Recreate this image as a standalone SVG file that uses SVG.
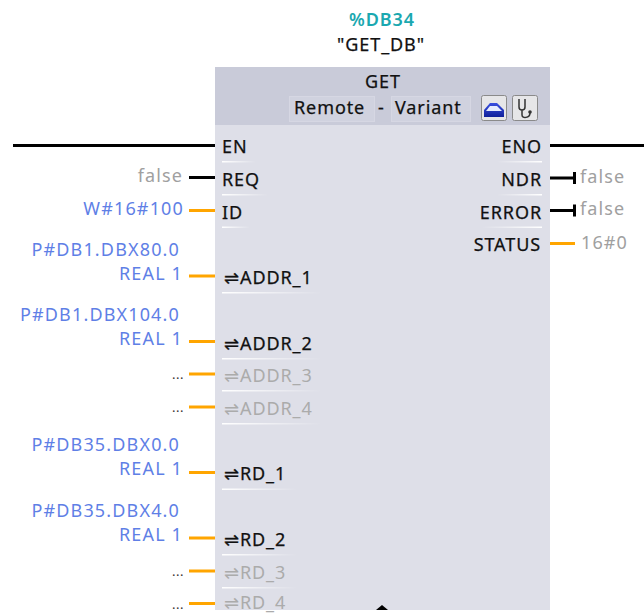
<svg xmlns="http://www.w3.org/2000/svg" width="644" height="613" viewBox="0 0 644 613">
<defs>
<linearGradient id="fr"><stop offset="0" stop-color="#fff"/><stop offset="1" stop-color="#fff" stop-opacity="0"/></linearGradient>
<linearGradient id="fl"><stop offset="0" stop-color="#fff" stop-opacity="0"/><stop offset="1" stop-color="#fff"/></linearGradient>
<linearGradient id="tb" x1="0" y1="0" x2="0" y2="1"><stop offset="0" stop-color="#3a50e0"/><stop offset="1" stop-color="#10209a"/></linearGradient>
</defs>
<style>
text{font-family:"Noto Sans","DejaVu Sans",sans-serif;font-size:18px;letter-spacing:.9px;fill:#111;stroke:#111;stroke-width:.25px}
.r{text-anchor:end}
.m{text-anchor:middle}
.v{fill:#5f7fe6;stroke:none;letter-spacing:1.15px}
.g{fill:#a0a0a0;stroke:none;letter-spacing:1.1px}
.d{fill:#ababab;stroke:none}
.dots{font-size:13px;letter-spacing:.5px;fill:#333;stroke:none}
.hr{fill:url(#fr)}
.hl{fill:url(#fl)}
.w{stroke:#000;stroke-width:3;fill:none}
.o{stroke:#ffa500;stroke-width:3;fill:none}
.lab{fill:#d0d2df;stroke:#d6d7e3}
.btn{fill:#e6e6e8;stroke:#8a8a8a}
</style>
<g id="instance"><text class="m" x="382" y="26" style="fill:#1aa8b0;stroke:none;font-weight:600">%DB34</text><text class="m" x="381" y="51">"GET_DB"</text></g>
<g id="block">
<rect x="215" y="67" width="335" height="543" fill="#dedfe8"/>
<rect x="215" y="67" width="335" height="58" fill="#c9cbd9"/>
<text class="m" x="383" y="88">GET</text>
<rect class="lab" x="289.500" y="96.500" width="85" height="25"/>
<rect class="lab" x="391.500" y="96.500" width="79" height="25"/>
<text x="294" y="114">Remote</text><text x="378" y="114">-</text><text x="395" y="114">Variant</text>
<rect class="btn" x="481.500" y="95.500" width="25" height="25" rx="2"/>
<rect class="btn" x="512.500" y="95.500" width="25" height="25" rx="2"/>
<path d="M484 117V110L490 103H497L504 110V117Z" fill="url(#tb)"/><path d="M490 106H497L502 111H486Z" fill="#e6ecff"/>
<path d="M519 99V107C519 111 525 111 525 107V99M522 110V115C522 119 530 118 530 113" fill="none" stroke="#333" stroke-width="1.500"/><circle cx="530" cy="112" r="1.800" fill="#333"/>
<path d="M376 610L382 605L388 610Z" fill="#000"/>
</g>
<g id="connectors">
<path class="w" d="M13 145.500H215M550 145.500H644M189 177.500H215M550 178H574M550 210.500H574"/>
<path d="M574.500 172V184M574.500 204.500V216.500" stroke="#000" stroke-width="3"/>
<path class="o" d="M189 210.500H215M189 276H215M189 341.500H215M189 374H215M189 407H215M189 472.500H215M189 538H215M189 571H215M189 603.500H215M550 243.500H575"/>
</g>
<g id="underlines">
<rect class="hr" x="222" y="161" width="34" height="1.500"/><rect class="hr" x="222" y="194" width="46" height="1.500"/><rect class="hr" x="222" y="226.500" width="28" height="1.500"/>
<rect class="hr" x="222" y="292" width="100" height="1.500"/><rect class="hr" x="222" y="358" width="100" height="1.500"/><rect class="hr" x="222" y="390" width="100" height="1.500"/><rect class="hr" x="222" y="423" width="100" height="1.500"/>
<rect class="hr" x="222" y="488.500" width="75" height="1.500"/><rect class="hr" x="222" y="554" width="75" height="1.500"/><rect class="hr" x="222" y="587" width="75" height="1.500"/>
<rect class="hl" x="497" y="161" width="45" height="1.500"/><rect class="hl" x="497" y="194" width="45" height="1.500"/><rect class="hl" x="482" y="226.500" width="60" height="1.500"/>
</g>
<g id="inputs">
<text class="r g" x="183" y="182">false</text>
<text class="r v" x="184" y="215">W#16#100</text>
<text class="r v" x="180" y="256">P#DB1.DBX80.0</text><text class="r v" x="183" y="280">REAL 1</text>
<text class="r v" x="180" y="321">P#DB1.DBX104.0</text><text class="r v" x="183" y="345">REAL 1</text>
<text class="r dots" x="184" y="379">...</text><text class="r dots" x="184" y="412">...</text>
<text class="r v" x="180" y="451">P#DB35.DBX0.0</text><text class="r v" x="183" y="475">REAL 1</text>
<text class="r v" x="180" y="517">P#DB35.DBX4.0</text><text class="r v" x="183" y="541">REAL 1</text>
<text class="r dots" x="184" y="576">...</text><text class="r dots" x="184" y="609">...</text>
</g>
<g id="pins">
<text x="222" y="153">EN</text><text x="222" y="186">REQ</text><text x="222" y="219">ID</text>
<text x="224" y="284">⇌ADDR_1</text><text x="224" y="350">⇌ADDR_2</text>
<text class="d" x="224" y="382">⇌ADDR_3</text><text class="d" x="224" y="415">⇌ADDR_4</text>
<text x="224" y="480">⇌RD_1</text><text x="224" y="546">⇌RD_2</text>
<text class="d" x="224" y="579">⇌RD_3</text><text class="d" x="224" y="609">⇌RD_4</text>
<text class="r" x="542" y="153">ENO</text><text class="r" x="542" y="186">NDR</text><text class="r" x="542" y="219">ERROR</text><text class="r" x="541" y="251">STATUS</text>
</g>
<g id="outputs"><text class="g" x="580" y="183">false</text><text class="g" x="580" y="215">false</text><text class="g" x="581" y="249">16#0</text></g>
</svg>
